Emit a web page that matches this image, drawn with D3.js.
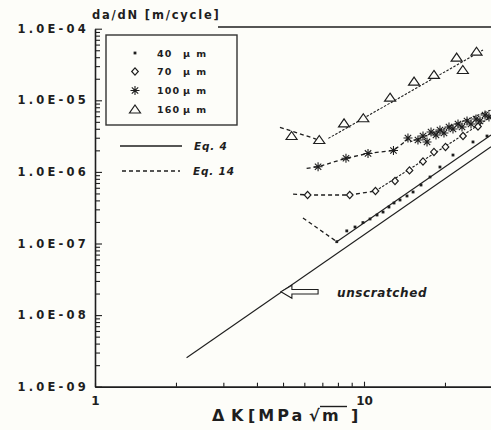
<!DOCTYPE html>
<html><head><meta charset="utf-8">
<script src="https://cdn.jsdelivr.net/npm/d3@7/dist/d3.min.js"></script>
<style>body{margin:0;background:#fdfdf9}svg{display:block}</style>
</head><body><svg id="c" width="491" height="430"></svg>
<script>
// ---------- data ----------
const legendSizes = ["40", "70", "100", "160"];
const legendUnit = "µ m";
const yTickLabels = ["1.0E-09", "1.0E-08", "1.0E-07", "1.0E-06", "1.0E-05", "1.0E-04"];
const xTickLabels = ["1", "10"];

const dK40 = [7.92, 8.63, 9.26, 9.91, 10.53, 11.18, 11.77, 12.38, 12.93, 13.61, 14.45, 15.22, 16.29, 17.60, 19.16, 21.42, 25.42, 28.66];
const da40 = [1.06e-7, 1.50e-7, 1.70e-7, 1.96e-7, 2.20e-7, 2.50e-7, 2.75e-7, 3.23e-7, 3.68e-7, 4.05e-7, 4.61e-7, 5.24e-7, 6.56e-7, 8.49e-7, 1.17e-6, 1.72e-6, 2.62e-6, 3.17e-6];
const dK70 = [6.17, 8.85, 11.03, 13.04, 14.76, 16.57, 18.2, 20.09, 23.34, 26.53];
const da70 = [4.76e-7, 4.76e-7, 5.41e-7, 7.46e-7, 1.05e-6, 1.40e-6, 1.90e-6, 2.23e-6, 3.17e-6, 4.31e-6];
const dK100 = [6.75, 8.57, 10.35, 12.87, 14.57, 15.87, 16.57, 17.15, 17.75, 18.52, 19.16, 19.83, 20.70, 21.42, 22.36, 23.14, 24.15, 24.99, 26.09, 26.99, 28.18, 29.15];
const da100 = [1.18e-6, 1.55e-6, 1.81e-6, 1.99e-6, 2.97e-6, 2.79e-6, 3.17e-6, 2.62e-6, 3.61e-6, 3.28e-6, 3.85e-6, 3.49e-6, 4.24e-6, 3.97e-6, 4.67e-6, 4.24e-6, 5.14e-6, 4.67e-6, 5.48e-6, 5.14e-6, 6.23e-6, 5.84e-6];
const dK150 = [5.38, 6.82, 8.43, 9.94, 12.5, 15.35, 18.2, 22.1, 23.3, 26.2];
const da150 = [3.17e-6, 2.79e-6, 4.77e-6, 5.61e-6, 1.087e-5, 1.82e-5, 2.26e-5, 3.94e-5, 2.65e-5, 4.77e-5];

// Eq. 14 (threshold, dashed) and Eq. 4 (Paris fit) curves
const eq14_40 = [[5.93, 2.27e-7], [7.92, 1.06e-7]];
const eq4_40 = [[7.92, 1.06e-7], [29.67, 3.28e-6]];
const eq14_70 = [[5.45, 4.9e-7], [6.17, 4.76e-7], [8.85, 4.76e-7], [11.03, 5.41e-7]];
const eq4_70 = [[11.03, 5.41e-7], [29.67, 5.84e-6]];
const eq14_100 = [[6.12, 1.12e-6], [6.75, 1.18e-6], [8.57, 1.55e-6], [10.35, 1.81e-6], [12.87, 1.99e-6], [14.57, 2.85e-6]];
const eq4_100 = [[14.83, 2.62e-6], [29.67, 7.32e-6]];
const eq14_150 = [[4.87, 4.2e-6], [6.63, 2.88e-6]];
const eq4_150 = [[7.37, 2.94e-6], [27.7, 5.04e-5]];
const unscratched = [[2.19, 2.54e-9], [29.67, 2.25e-6]];
const arrowTip = [4.91, 2.12e-8], arrowTail = [6.75, 2.12e-8], noteAt = [7.94, 1.8e-8];

// ---------- scales ----------
const svg = d3.select("#c");
const INK = "#1e1e1e";
const x = d3.scaleLog().domain([1, 30]).range([95, 95 + 269 * Math.log10(30)]);
const y = d3.scaleLog().domain([1e-9, 1e-4]).range([386.7, 28.7]);
const X0 = 95, Y0 = 386.7;

svg.append("defs").append("clipPath").attr("id", "clip")
  .append("rect").attr("x", X0).attr("y", 20).attr("width", 400).attr("height", Y0 - 20);

// ---------- axes ----------
const isDecade = d => Math.abs(Math.log10(d) - Math.round(Math.log10(d))) < 1e-9;
const yAx = svg.append("g").attr("transform", `translate(${X0},0)`)
  .call(d3.axisLeft(y).tickValues(y.ticks()).tickSize(-5).tickSizeOuter(0).tickPadding(6)
    .tickFormat(d => isDecade(d) ? yTickLabels[Math.round(Math.log10(d)) + 9] : ""));
yAx.select(".domain").attr("stroke", INK).attr("stroke-width", 1.6);
yAx.selectAll(".tick line").attr("stroke", INK).attr("stroke-width", 1.1)
  .attr("x2", d => isDecade(d) ? 7 : 5);
yAx.selectAll(".tick text").attr("fill", INK).style("font", "bold 11.5px 'DejaVu Sans'")
  .style("letter-spacing", "3.2px");

const xAx = svg.append("g").attr("transform", `translate(0,${Y0})`)
  .call(d3.axisBottom(x).tickValues(x.ticks()).tickSize(-4).tickSizeOuter(0).tickPadding(10)
    .tickFormat(d => d === 1 ? xTickLabels[0] : d === 10 ? xTickLabels[1] : ""));
xAx.select(".domain").attr("stroke", INK).attr("stroke-width", 1.8);
xAx.selectAll(".tick line").attr("stroke", INK).attr("stroke-width", 1.1)
  .attr("y2", d => d === 10 ? -5 : -4);
xAx.selectAll(".tick text").attr("fill", INK).style("font", "bold 12px 'DejaVu Sans'");

// top frame segment
svg.append("line").attr("x1", 218).attr("x2", 491).attr("y1", 27).attr("y2", 27)
  .attr("stroke", INK).attr("stroke-width", 1.6);

// axis titles
svg.append("text").attr("x", 92).attr("y", 19).attr("fill", INK)
  .style("font", "bold 11.5px 'DejaVu Sans'").style("letter-spacing", "1.8px")
  .text("da/dN [m/cycle]");
{
  const t = svg.append("text").attr("y", 421).attr("fill", INK).style("font", "bold 16px 'DejaVu Sans'");
  t.append("tspan").attr("x", 212).text("Δ");
  t.append("tspan").attr("x", 231).text("K");
  t.append("tspan").attr("x", 248).style("letter-spacing", "3px").text("[MPa");
  t.append("tspan").attr("x", 309).text("√");
  t.append("tspan").attr("x", 322).text("m");
  t.append("tspan").attr("x", 351).text("]");
}
svg.append("line").attr("x1", 320).attr("x2", 347).attr("y1", 406.5).attr("y2", 406.5)
  .attr("stroke", INK).attr("stroke-width", 1.4);

// ---------- curves ----------
const line = d3.line().x(d => x(d[0])).y(d => y(d[1]));
const plot = svg.append("g").attr("clip-path", "url(#clip)");
plot.append("path").attr("d", line(unscratched)).attr("fill", "none").attr("stroke", INK).attr("stroke-width", 1.1);
[eq4_40, eq4_70, eq4_100, eq4_150].forEach(c =>
  plot.append("path").attr("d", line(c)).attr("fill", "none").attr("stroke", INK)
    .attr("stroke-width", 1.1).attr("stroke-dasharray", c === eq4_40 ? null : "2.5,1.5"));
[eq14_40, eq14_70, eq14_100, eq14_150].forEach(c =>
  plot.append("path").attr("d", line(c)).attr("fill", "none").attr("stroke", INK)
    .attr("stroke-width", 1.3).attr("stroke-dasharray", "4,3"));

// ---------- markers ----------
function mSquare(g) { g.append("rect").attr("x", -1.4).attr("y", -1.4).attr("width", 2.8).attr("height", 2.8).attr("fill", INK); }
function mDiamond(g) { g.append("path").attr("d", "M0,-3.6L3.3,0L0,3.6L-3.3,0Z").attr("fill", "#fdfdf9").attr("stroke", INK).attr("stroke-width", 1.2); }
function mStar(g) {
  g.append("path").attr("d", "M0,-4.5V4.5M-4.5,0H4.5M-3.2,-3.2L3.2,3.2M-3.2,3.2L3.2,-3.2")
    .attr("stroke", INK).attr("stroke-width", 1.1).attr("fill", "none");
}
function mTri(g) { g.append("path").attr("d", "M0,-4.5L5.5,3.5L-5.5,3.5Z").attr("fill", "#fdfdf9").attr("stroke", INK).attr("stroke-width", 1.2); }

function drawSeries(xs, ys, fn) {
  plot.append("g").selectAll("g").data(d3.zip(xs, ys)).join("g")
    .attr("transform", d => `translate(${x(d[0])},${y(d[1])})`)
    .each(function () { fn(d3.select(this)); });
}
drawSeries(dK40, da40, mSquare);
drawSeries(dK70, da70, mDiamond);
drawSeries(dK100, da100, mStar);
drawSeries(dK150, da150, mTri);

// ---------- unscratched annotation ----------
{
  const tx = x(arrowTip[0]), ty = y(arrowTip[1]), ex = x(arrowTail[0]);
  const hl = 11, hh = 6.5, sh = 2.3;
  svg.append("path").attr("d",
    `M${tx},${ty}L${tx + hl},${ty - hh}L${tx + hl},${ty - sh}L${ex},${ty - sh}L${ex},${ty + sh}L${tx + hl},${ty + sh}L${tx + hl},${ty + hh}Z`)
    .attr("fill", "#fdfdf9").attr("stroke", INK).attr("stroke-width", 1.1);
  svg.append("text").attr("x", x(noteAt[0])).attr("y", y(noteAt[1])).attr("fill", INK)
    .style("font", "italic bold 12px 'DejaVu Sans'").style("letter-spacing", "0.6px").text("unscratched");
}

// ---------- legend ----------
svg.append("rect").attr("x", 106).attr("y", 35).attr("width", 131).attr("height", 90)
  .attr("fill", "#fdfdf9").attr("stroke", "#333").attr("stroke-width", 1.4);
const markerFns = [mSquare, mDiamond, mStar, mTri];
const legY = [53, 71.5, 90.5, 109.5];
legendSizes.forEach((s, i) => {
  const g = svg.append("g").attr("transform", `translate(135,${legY[i]})`);
  markerFns[i](g);
  svg.append("text").attr("x", 157).attr("y", legY[i] + 3.6).attr("fill", INK)
    .style("font", "bold 9.5px 'DejaVu Sans'").style("letter-spacing", "1.2px").text(s);
  svg.append("text").attr("x", 183).attr("y", legY[i] + 3.6).attr("fill", INK)
    .style("font", "bold 9.5px 'DejaVu Sans'").style("letter-spacing", "1.5px").text(legendUnit);
});
svg.append("line").attr("x1", 120).attr("x2", 182).attr("y1", 146).attr("y2", 146)
  .attr("stroke", INK).attr("stroke-width", 1.5);
svg.append("line").attr("x1", 122).attr("x2", 180).attr("y1", 171).attr("y2", 171)
  .attr("stroke", INK).attr("stroke-width", 1.5).attr("stroke-dasharray", "4,3");
svg.append("text").attr("x", 194).attr("y", 150).attr("fill", INK)
  .style("font", "italic bold 10.5px 'DejaVu Sans'").style("letter-spacing", "0.8px").text("Eq. 4");
svg.append("text").attr("x", 193).attr("y", 175).attr("fill", INK)
  .style("font", "italic bold 10.5px 'DejaVu Sans'").style("letter-spacing", "0.8px").text("Eq. 14");
</script></body></html>
